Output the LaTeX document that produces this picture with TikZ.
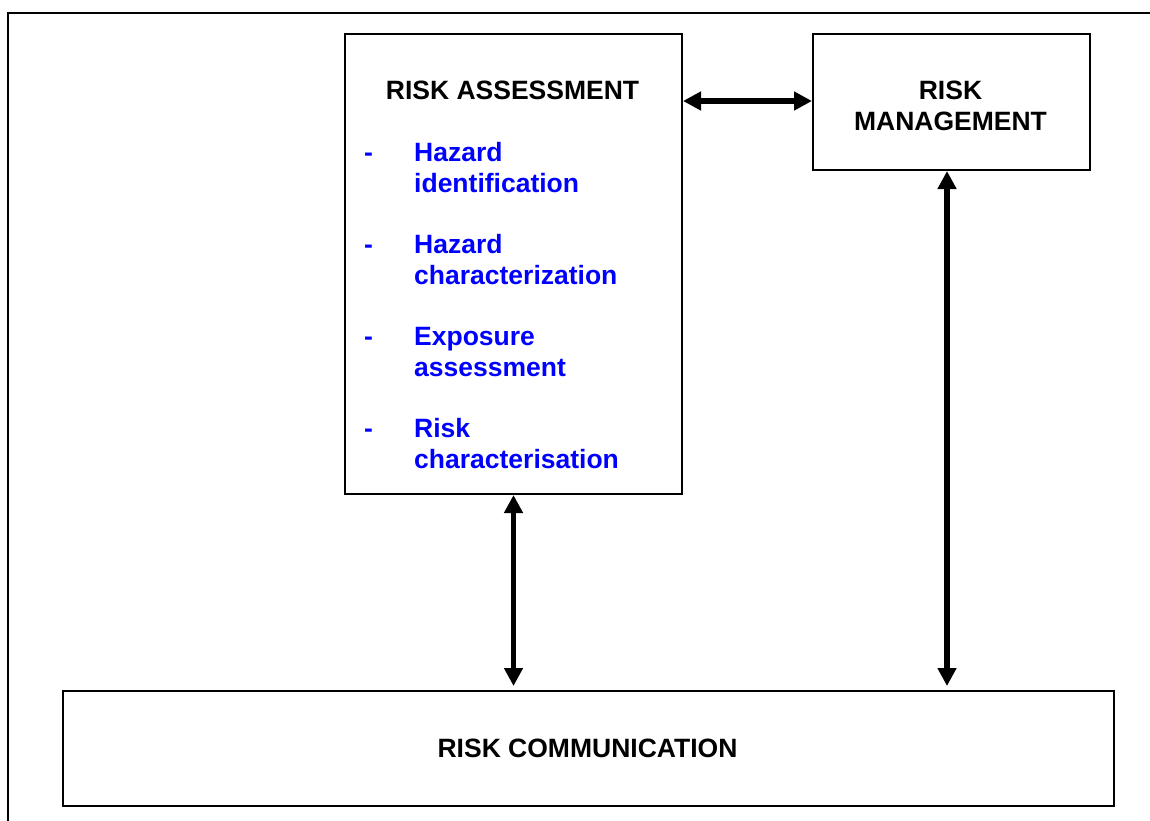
\documentclass[tikz,border=0pt]{standalone}
\usepackage{fontspec}
\setmainfont{Liberation Sans}
\usetikzlibrary{arrows.meta}
\definecolor{itemblue}{RGB}{0,0,255}
\tikzset{
  box/.style={draw=black, line width=2pt, rectangle, inner sep=0pt, anchor=north west},
  frame/.style={draw=black, line width=2pt},
  title/.style={inner sep=0pt, anchor=base, font=\fontsize{26.5}{31}\selectfont\bfseries, text=black},
  item/.style={inner sep=0pt, anchor=base west, font=\fontsize{26.5}{31}\selectfont\bfseries, text=itemblue},
  dashmark/.style={inner sep=0pt, anchor=base west, font=\fontsize{26.5}{31}\selectfont\bfseries, text=itemblue},
  arr/.style={line width=5.5pt, {Triangle[length=18pt,width=18pt]}-{Triangle[length=18pt,width=18pt]}}
}
\begin{document}
\begin{tikzpicture}[x=1pt,y=-1pt]
\useasboundingbox (0,0) rectangle (1150,820);
\clip (0,0) rectangle (1150,820);
\fill[white] (0,0) rectangle (1150,820);
% outer frame (cropped on right and bottom)
\draw[frame] (8,13) rectangle (1200,900);
% boxes
\node[box, minimum width=337pt, minimum height=460pt] (ra) at (344,33) {};
\node[box, minimum width=277pt, minimum height=136pt] (rm) at (812,33) {};
\node[box, minimum width=1051pt, minimum height=115pt] (rc) at (62,690) {};
% titles
\node[title] (raT) at (512.5,99) {RISK ASSESSMENT};
\node[title] (rmT1) at (950.5,99) {RISK};
\node[title] (rmT2) at (950.5,130) {MANAGEMENT};
\node[title] (rcT) at (587.5,757) {RISK COMMUNICATION};
% items
\node[dashmark] (d1) at (364,161) {-};
\node[item] (i1a) at (414,161) {Hazard};
\node[item] (i1b) at (414,192) {identification};
\node[dashmark] (d2) at (364,253) {-};
\node[item] (i2a) at (414,253) {Hazard};
\node[item] (i2b) at (414,284) {characterization};
\node[dashmark] (d3) at (364,345) {-};
\node[item] (i3a) at (414,345) {Exposure};
\node[item] (i3b) at (414,376) {assessment};
\node[dashmark] (d4) at (364,437) {-};
\node[item] (i4a) at (414,437) {Risk};
\node[item] (i4b) at (414,468) {characterisation};
% connectors
\coordinate (hy) at (0,101);
\coordinate (vx) at (947,0);
\draw[arr] (ra.east |- hy) -- (rm.west |- hy);
\draw[arr, shorten >=4pt] (ra.south) -- (rc.north -| ra.south);
\draw[arr, shorten >=4pt] (rm.south -| vx) -- (rc.north -| vx);
\end{tikzpicture}
\end{document}
